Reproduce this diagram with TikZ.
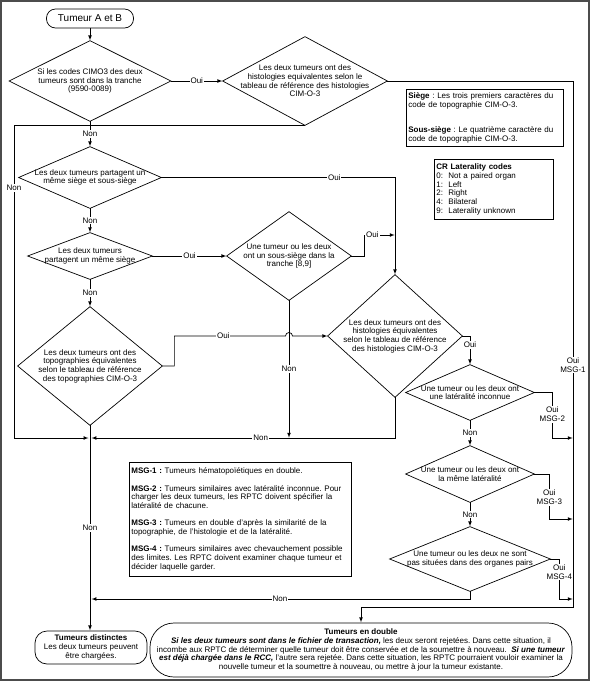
\documentclass[tikz,border=0pt]{standalone}
\usepackage{fontspec}
\setmainfont{Liberation Sans}
\usetikzlibrary{positioning}
\frenchspacing

\begin{document}
\begin{tikzpicture}[
    , x = 1pt
    , y = -1pt
    , line width = 0.7pt
    , font = \fontsize{8}{8.7}\selectfont
    , d/.style = {
      , inner sep = 0pt
      , align = center
    }
    , term/.style = {
      , draw
      , rounded corners = 9pt
      , align = center
      , inner sep = 0pt
    }
    , note/.style = {
      , draw
      , align = left
      , inner sep = 2pt
      , anchor = north west
    }
    , lbl/.style = {
      , fill = white
      , inner sep = 1pt
      , align = center
    }
    , arr/.style = {-latex, shorten > = 0.3pt}
  ]
    \useasboundingbox (0,0) rectangle (590,681);
    \draw [line width = 2pt, black!70] (1,1) rectangle (589,680);

    \node (start) [term, minimum width = 87pt, minimum height = 19pt, font = \fontsize{10}{12}\selectfont] at (90,18.5) {Tumeur A et B};
    \node (d1) [d, minimum width = 161pt, minimum height = 80pt] at (90,81) {Si les codes CIMO3 des deux\\tumeurs sont dans la tranche\\(9590-0089)};
    \node (d2) [d, minimum width = 164pt, minimum height = 88pt] at (305,81) {Les deux tumeurs ont des\\histologies equivalentes selon le\\tableau de référence des histologies\\CIM-O-3};
    \node (d3) [d, minimum width = 142pt, minimum height = 61pt] at (90,177.5) {Les deux tumeurs partagent un\\même siège et sous-siège};
    \node (d4) [d, minimum width = 124pt, minimum height = 46pt] at (90,256) {Les deux tumeurs\\partagent un même siège};
    \node (d5) [d, minimum width = 124pt, minimum height = 88pt] at (289,256) {Une tumeur ou les deux\\ont un sous-siège dans la\\tranche [8,9]};
    \node (d6) [d, minimum width = 134pt, minimum height = 122pt] at (395,336) {Les deux tumeurs ont des\\histologies équivalentes\\selon le tableau de référence\\des histologies CIM-O-3};
    \node (d7) [d, minimum width = 144pt, minimum height = 118pt] at (90,366) {Les deux tumeurs ont des\\topographies équivalentes\\selon le tableau de référence\\des topographies CIM-O-3};
    \node (d8) [d, minimum width = 128pt, minimum height = 55pt] at (470,392.5) {Une tumeur ou les deux ont\\une latéralité inconnue};
    \node (d9) [d, minimum width = 128pt, minimum height = 56pt] at (470,474) {Une tumeur ou les deux ont\\la même latéralité};
    \node (d10) [d, minimum width = 160pt, minimum height = 64pt] at (470,559) {Une tumeur ou les deux ne sont\\pas situées dans des organes pairs};
    \foreach \n in {d1,d2,d3,d4,d5,d6,d7,d8,d9,d10}
      \draw (\n.north) -- (\n.east) -- (\n.south) -- (\n.west) -- cycle;

    \node (siege) [note, text width = 153pt, minimum height = 57pt] at (406,89) {\textbf{Siège} : Les trois premiers caractères du\\code de topographie CIM-O-3.\\[17pt]\textbf{Sous-siège} : Le quatrième caractère du\\code de topographie CIM-O-3.};
    \node (codes) [note, text width = 115pt, minimum height = 60pt] at (434,159) {\textbf{CR Laterality codes}\\0:\ \ Not a paired organ\\1:\ \ Left\\2:\ \ Right\\4:\ \ Bilateral\\9:\ \ Laterality unknown};
    \node (msg) [note, text width = 218pt, minimum height = 114pt] at (129,462) {\textbf{MSG-1 :} Tumeurs hématopoïétiques en double.\\[8.7pt]\textbf{MSG-2 :} Tumeurs similaires avec latéralité inconnue. Pour\\charger les deux tumeurs, les RPTC doivent spécifier la\\latéralité de chacune.\\[8.7pt]\textbf{MSG-3 :} Tumeurs en double d'après la similarité de la\\topographie, de l'histologie et de la latéralité.\\[8.7pt]\textbf{MSG-4 :} Tumeurs similaires avec chevauchement possible\\des limites. Les RPTC doivent examiner chaque tumeur et\\décider laquelle garder.};

    \node (dist) [term, rounded corners = 12pt, minimum width = 112pt, minimum height = 33pt] at (91,647.5) {\textbf{Tumeurs distinctes}\\Les deux tumeurs peuvent\\être chargées.};
    \node (dbl) [term, rounded corners = 24pt, minimum width = 422pt, minimum height = 54pt] at (361,650) {\textbf{Tumeurs en double}\\\textbf{\textit{Si les deux tumeurs sont dans le fichier de transaction,}} les deux seront rejetées. Dans cette situation, il\\incombe aux RPTC de déterminer quelle tumeur doit être conservée et de la soumettre à nouveau.\ \ \textbf{\textit{Si une tumeur}}\\\textbf{\textit{est déjà chargée dans le RCC,}} l'autre sera rejetée. Dans cette situation, les RPTC pourraient vouloir examiner la\\nouvelle tumeur et la soumettre à nouveau, ou mettre à jour la tumeur existante.};

    \coordinate (j1) at (90,438);
    \coordinate (lft) at (14,438);
    \coordinate (j2) at (395,235);
    \coordinate (j3) at (289,438);
    \coordinate (j4) at (90,599);
    \coordinate (rail) at (573,607);
    \coordinate (m2) at (573,438);
    \coordinate (m3) at (573,519);
    \coordinate (m4) at (573,599);

    \draw [arr] (start) -- (d1);
    \draw [arr] (d1) -- node [lbl] {Oui} (d2);
    \draw [arr] (d2.east) -| node [lbl, pos = 0.77] {Oui\\MSG-1} (rail) -| (dbl.north);
    \draw [arr, shorten > = 1.5pt] (d2.south) -| node [lbl, pos = 0.6] {Non} (lft) -- (j1);
    \draw [arr] (d1) -- node [lbl] {Non} (d3);
    \draw [arr] (d3.east) -| node [lbl, pos = 0.37] {Oui} (d6.north);
    \draw [arr] (d3) -- node [lbl] {Non} (d4);
    \draw [arr] (d4) -- node [lbl] {Oui} (d5);
    \draw [arr] (d4) -- node [lbl] {Non} (d7);
    \draw [arr] (d5.east) -- ++(13,0) |- node [lbl, pos = 0.63] {Oui} (j2);
    \draw [arr] (d5.south) -- node [lbl] {Non} (j3);
    \draw [arr] (d7.east) -- ++(12,0) |- node [lbl, pos = 0.72] {Oui} (285.5,336) arc [start angle = 180, end angle = 0, radius = 3.5pt] -- (d6.west);
    \draw [arr] (d6.east) -| node [lbl, pos = 0.65] {Oui} (d8.north);
    \draw [arr, shorten > = 1.5pt] (d6.south) |- node [lbl, pos = 0.72] {Non} (j1);
    \draw [arr] (d7.south) -- node [lbl] {Non} (d7.south |- dist.north);
    \draw [arr] (d8.east) -- ++(18,0) |- node [lbl, pos = 0.24] {Oui\\MSG-2} (m2);
    \draw [arr] (d8) -- node [lbl] {Non} (d9);
    \draw [arr] (d9.east) -- ++(15,0) |- node [lbl, pos = 0.26] {Oui\\MSG-3} (m3);
    \draw [arr] (d9) -- node [lbl] {Non} (d10);
    \draw [arr] (d10.east) -- ++(9,0) |- node [lbl, pos = 0.16] {Oui\\MSG-4} (m4);
    \draw [arr, shorten > = 1.5pt] (d10.south) |- node [lbl, pos = 0.75] {Non} (j4);
  \end{tikzpicture}
\end{document}
